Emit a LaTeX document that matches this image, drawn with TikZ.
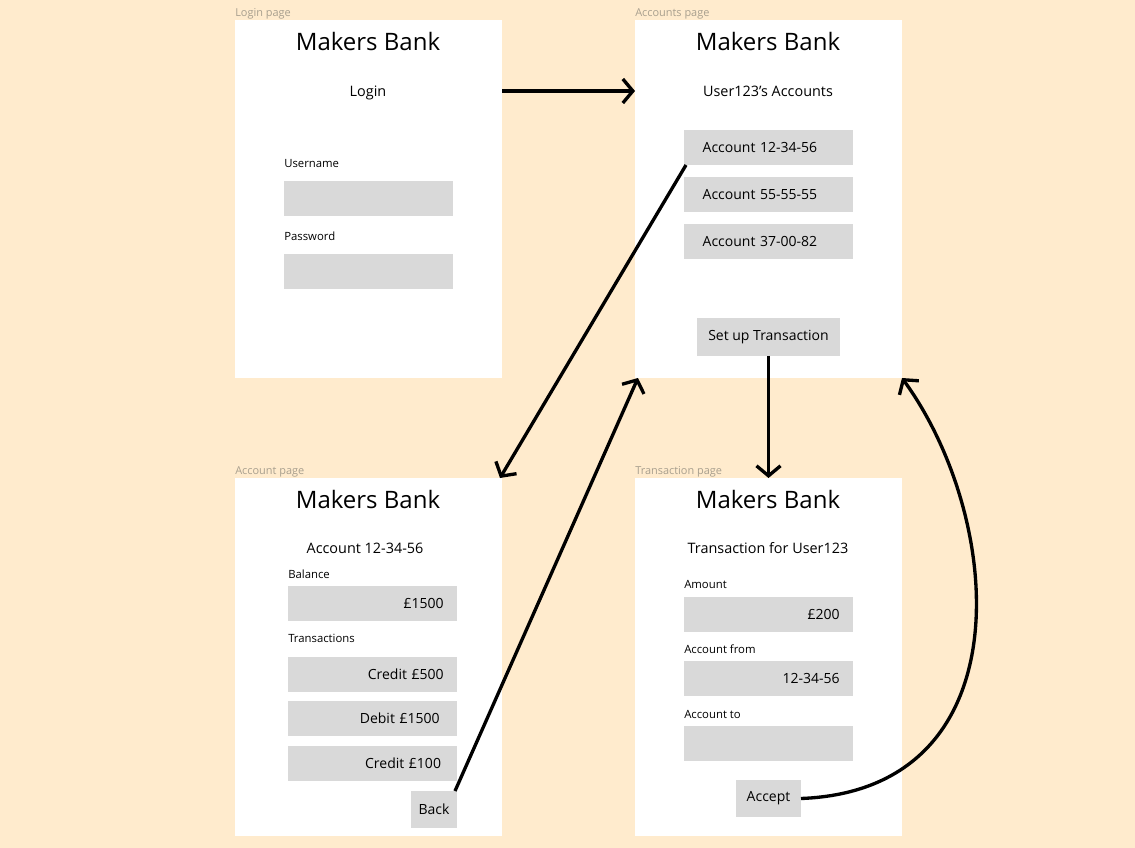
\documentclass[tikz,border=0pt]{standalone}
\usepackage{fontspec}
\setmainfont{Open Sans}
\usetikzlibrary{arrows.meta}
\definecolor{bg}{HTML}{FFEBCD}
\definecolor{fieldgrey}{HTML}{D9D9D9}
\definecolor{captiongrey}{HTML}{A89F8E}
\begin{document}
\begin{tikzpicture}[x=0.75pt,y=-0.75pt,
  pageframe/.style={fill=white, inner sep=0pt, outer sep=0pt, minimum width=200.25pt, minimum height=268.5pt, anchor=north west},
  caption/.style={text=captiongrey, font=\fontsize{8.2}{9}\selectfont, inner sep=0pt, anchor=mid west},
  title/.style={font=\fontsize{18}{20}\selectfont, inner sep=0pt, anchor=mid},
  subtitle/.style={font=\fontsize{10.8}{13}\selectfont, inner sep=0pt, anchor=mid},
  fieldlabel/.style={font=\fontsize{8.5}{10}\selectfont, inner sep=0pt, anchor=mid west},
  field/.style={fill=fieldgrey, inner xsep=10pt, inner ysep=0pt, outer sep=0pt, minimum height=26.25pt, text width=106.75pt, anchor=north west, font=\fontsize{10.5}{12}\selectfont},
  button/.style={fill=fieldgrey, inner sep=0pt, outer sep=0pt, anchor=north west, font=\fontsize{10.5}{12}\selectfont},
  conn/.style={line width=2.5pt, -{Straight Barb[length=7.5pt,width=18pt,line width=2.5pt]}}]
\fill[bg] (0,0) rectangle (1135,848);
\useasboundingbox (0,0) rectangle (1135,848);

% ---------- Login page ----------
\node[caption] (capLogin) at (235,13) {Login page};
\node[pageframe] (login) at (235,20) {};
\node[title] (loginTitle) at (368,47) {Makers Bank};
\node[subtitle] (loginSub) at (368,93) {Login};
\node[fieldlabel] (userLbl) at (284,164) {Username};
\node[field] (userField) at (284,181) {};
\node[fieldlabel] (passLbl) at (284,237) {Password};
\node[field] (passField) at (284,254) {};

% ---------- Accounts page ----------
\node[caption] (capAccounts) at (635,13) {Accounts page};
\node[pageframe] (accounts) at (635,20) {};
\node[title] (accountsTitle) at (768,47) {Makers Bank};
\node[subtitle] (accountsSub) at (768,93) {User123’s Accounts};
\node[field, align=left, inner xsep=14pt, text width=98.75pt] (acc1) at (684,130) {Account 12-34-56};
\node[field, align=left, inner xsep=14pt, text width=98.75pt] (acc2) at (684,177) {Account 55-55-55};
\node[field, align=left, inner xsep=14pt, text width=98.75pt] (acc3) at (684,224) {Account 37-00-82};
\node[button, minimum width=107.25pt, minimum height=28.5pt] (setup) at (697,318) {Set up Transaction};

% ---------- Account page ----------
\node[caption] (capAccount) at (235,471) {Account page};
\node[pageframe] (accpage) at (235,478) {};
\node[title] (accpageTitle) at (368,505) {Makers Bank};
\node[subtitle] (accpageSub) at (365,550) {Account 12-34-56};
\node[fieldlabel] (balLbl) at (288,575) {Balance};
\node[field, align=right] (balField) at (288,586) {£1500};
\node[fieldlabel] (trLbl) at (288,639) {Transactions};
\node[field, align=right] (tr1) at (288,657) {Credit £500};
\node[field, align=right, inner xsep=13pt, text width=100.75pt] (tr2) at (288,701) {Debit £1500};
\node[field, align=right, inner xsep=12pt, text width=102.75pt] (tr3) at (288,746) {Credit £100};
\node[button, minimum width=34.5pt, minimum height=27.75pt] (back) at (411,791) {Back};

% ---------- Transaction page ----------
\node[caption] (capTrans) at (635,471) {Transaction page};
\node[pageframe] (trans) at (635,478) {};
\node[title] (transTitle) at (768,505) {Makers Bank};
\node[subtitle] (transSub) at (768,550) {Transaction for User123};
\node[fieldlabel] (amtLbl) at (684,585) {Amount};
\node[field, align=right] (amtField) at (684,597) {£200};
\node[fieldlabel] (fromLbl) at (684,650) {Account from};
\node[field, align=right] (fromField) at (684,661) {12-34-56};
\node[fieldlabel] (toLbl) at (684,715) {Account to};
\node[field] (toField) at (684,726) {};
\node[button, minimum width=48.75pt, minimum height=27.75pt] (accept) at (736,780) {Accept};

% ---------- Connectors ----------
\draw[conn] ([yshift=1.5pt]login.east |- loginSub) -- ([yshift=1.5pt]accounts.west |- loginSub);
\draw[conn] ([xshift=1.5pt]acc1.south west) -- ([xshift=-1.5pt]accpage.north east);
\draw[conn] ([xshift=-1.5pt]back.north east) -- ([xshift=2.2pt]accounts.south west);
\draw[conn] (setup.south) -- (trans.north);
\draw[conn] (accept.east) .. controls (1025,790) and (1005,520) .. (accounts.south east);
\end{tikzpicture}
\end{document}
